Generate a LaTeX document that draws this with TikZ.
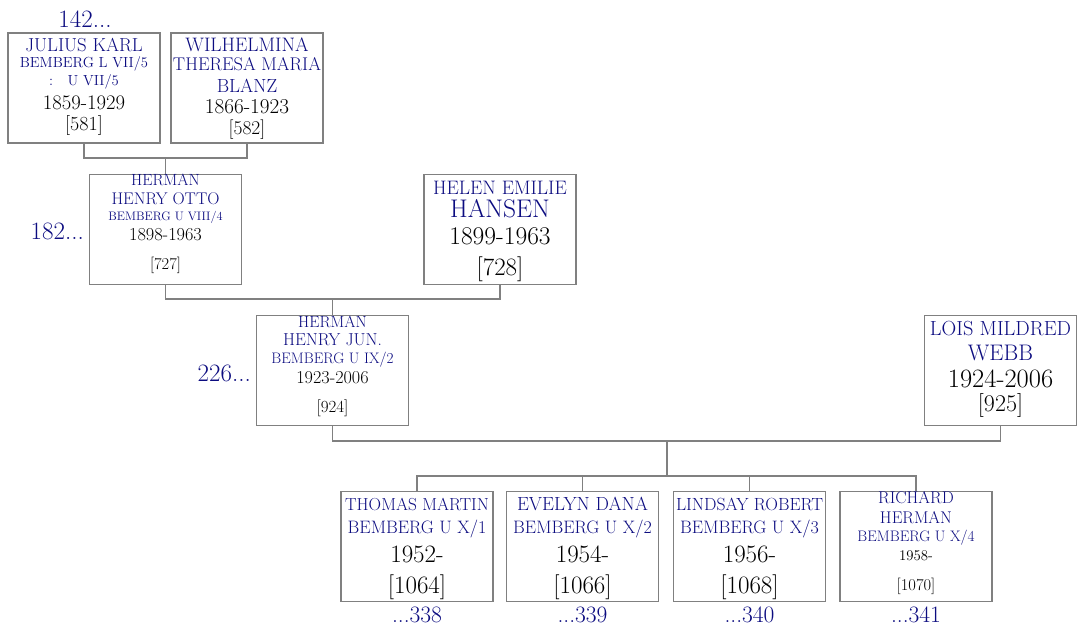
\documentclass[tikz,border=0pt]{standalone}
\usepackage{fontspec}
\definecolor{nameblue}{RGB}{12,12,128}

\begin{document}
\begin{tikzpicture}[x=1pt,y=-1pt,
  person/.style={draw=black!50,line width=1.25pt,minimum width=152pt,minimum height=110pt,inner sep=0pt},
  link/.style={draw=black!50,line width=1.25pt},
  txt/.style={anchor=base,inner sep=0pt},
  refno/.style={txt,text=nameblue,font=\fontsize{25}{25}\selectfont}]
\useasboundingbox (0,0) rectangle (1079,628);
% ---- generation 1: Julius and Wilhelmina ----
\node[person] (julius) at (84,88) {};
\foreach \tx/\yy/\sz/\cl [count=\i] in {{JULIUS KARL}/52/18.8/nameblue, {BEMBERG L VII/5}/68/14.6/nameblue,
    {:\quad U VII/5}/86/14.6/nameblue, 1859-1929/110/20.7/black, {[581]}/131/20/black}
  \node[txt,text=\cl,font=\fontsize{\sz}{\sz}\selectfont] (julius-\i) at (84,\yy) {\tx};
\node[refno] (julius-up) at (85,28) {142...};
\node[person] (wilhelmina) at (247,88) {};
\foreach \tx/\yy/\sz/\cl [count=\i] in {WILHELMINA/52/19.5/nameblue, {THERESA MARIA}/71/18.4/nameblue,
    BLANZ/93/19/nameblue, 1866-1923/114/21.2/black, {[582]}/134.5/19.5/black}
  \node[txt,text=\cl,font=\fontsize{\sz}{\sz}\selectfont] (wilhelmina-\i) at (247,\yy) {\tx};
% ---- generation 2: Herman Henry Otto and Helen ----
\node[person] (hermanotto) at (165.5,229.5) {};
\foreach \tx/\yy/\sz/\cl [count=\i] in {HERMAN/186/16.2/nameblue, {HENRY OTTO}/205/16.9/nameblue,
    {BEMBERG U VIII/4}/221/12.3/nameblue, 1898-1963/241/18.3/black, {[727]}/270/16.5/black}
  \node[txt,text=\cl,font=\fontsize{\sz}{\sz}\selectfont] (hermanotto-\i) at (165.5,\yy) {\tx};
\node[refno,anchor=base east] (hermanotto-up) at (84,240) {182...};
\node[person] (helen) at (500,229.5) {};
\foreach \tx/\yy/\sz/\cl [count=\i] in {{HELEN EMILIE}/195/19.5/nameblue, HANSEN/218/25.5/nameblue,
    1899-1963/245/25.5/black, {[728]}/276/25/black}
  \node[txt,text=\cl,font=\fontsize{\sz}{\sz}\selectfont] (helen-\i) at (500,\yy) {\tx};
% ---- generation 3: Herman Henry jun. and Lois ----
\node[person] (hermanjr) at (332.5,370.5) {};
\foreach \tx/\yy/\sz/\cl [count=\i] in {HERMAN/327/16.2/nameblue, {HENRY JUN.}/345/17.3/nameblue,
    {BEMBERG U IX/2}/363/15.2/nameblue, 1923-2006/383/18.2/black, {[924]}/412/17/black}
  \node[txt,text=\cl,font=\fontsize{\sz}{\sz}\selectfont] (hermanjr-\i) at (332.5,\yy) {\tx};
\node[refno,anchor=base east] (hermanjr-up) at (251,381) {226...};
\node[person] (lois) at (1000.5,370.5) {};
\foreach \tx/\yy/\sz/\cl [count=\i] in {{LOIS MILDRED}/336/20.4/nameblue, WEBB/360/22.5/nameblue,
    1924-2006/387/26.5/black, {[925]}/411/24/black}
  \node[txt,text=\cl,font=\fontsize{\sz}{\sz}\selectfont] (lois-\i) at (1000.5,\yy) {\tx};
% ---- generation 4: the children ----
\foreach \ch/\x/\nm/\nsz/\code/\yr/\id/\down in {thomas/417/{THOMAS MARTIN}/17.4/1/1952/1064/338,
    evelyn/582.5/{EVELYN DANA}/19/2/1954/1066/339, lindsay/749.5/{LINDSAY ROBERT}/17.6/3/1956/1068/340}{
  \node[person] (\ch) at (\x,546.5) {};
  \node[txt,text=nameblue,font=\fontsize{\nsz}{\nsz}\selectfont] (\ch-1) at (\x,510) {\nm};
  \node[txt,text=nameblue,font=\fontsize{18}{18}\selectfont] (\ch-2) at (\x,533) {BEMBERG U X/\code};
  \node[txt,font=\fontsize{25}{25}\selectfont] (\ch-3) at (\x,562) {\yr-};
  \node[txt,font=\fontsize{25}{25}\selectfont] (\ch-4) at (\x,593) {[\id]};
  \node[refno,font=\fontsize{23.5}{23.5}\selectfont] (\ch-down) at (\x,622) {...\down};
}
\node[person] (richard) at (916,546.5) {};
\foreach \tx/\yy/\sz/\cl [count=\i] in {RICHARD/503/17/nameblue, HERMAN/523/17/nameblue,
    {BEMBERG U X/4}/541/15.2/nameblue, 1958-/560/14.8/black, {[1070]}/590/16.5/black}
  \node[txt,text=\cl,font=\fontsize{\sz}{\sz}\selectfont] (richard-\i) at (916,\yy) {\tx};
\node[refno,font=\fontsize{23.5}{23.5}\selectfont] (richard-down) at (916,622) {...341};
% ---- connectors ----
\coordinate (m1) at (165.5,158);
\coordinate (m2) at (332.5,299);
\coordinate (m3) at (667,441);
\coordinate (m4) at (667,476);
\draw[link] (julius.south) |- (m1) -| (wilhelmina.south);
\draw[link] (m1) -- (hermanotto.north);
\draw[link] (hermanotto.south) |- (m2) -| (helen.south);
\draw[link] (m2) -- (hermanjr.north);
\draw[link] (hermanjr.south) |- (m3) -| (lois.south);
\draw[link] (m3) -- (m4);
\foreach \ch in {thomas,evelyn,lindsay,richard}
  \draw[link] (m4) -| (\ch.north);
\end{tikzpicture}
\end{document}
